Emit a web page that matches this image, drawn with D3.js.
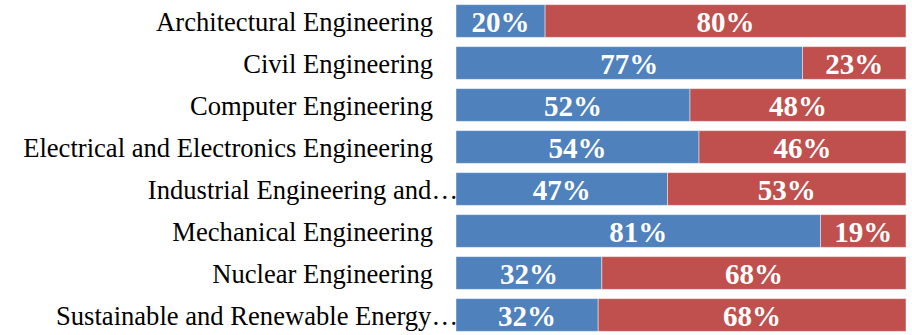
<!DOCTYPE html>
<html><head><meta charset="utf-8">
<script src="https://cdn.jsdelivr.net/npm/d3@7"></script>
<style>html,body{margin:0;padding:0;background:#fff;}svg{display:block;}</style>
</head><body>
<svg id="chart" width="912" height="335"></svg>
<script>
const categories = [
  "Architectural Engineering",
  "Civil Engineering",
  "Computer Engineering",
  "Electrical and Electronics Engineering",
  "Industrial Engineering and…",
  "Mechanical Engineering",
  "Nuclear Engineering",
  "Sustainable and Renewable Energy…"
];
const seriesBlue = [19.8, 77, 52, 54, 47, 81, 32.4, 31.6];
const seriesRed  = [80.2, 23, 48, 46, 53, 19, 67.6, 68.4];
const colors = ["#4F81BD", "#C0504D"];

const svg = d3.select("#chart");
const x = d3.scaleLinear().domain([0, 100]).range([456, 906]);
const y = d3.scaleBand().domain(categories).range([0, 336]).paddingInner(0.22).paddingOuter(0.11);

const rows = categories.map((c, i) => ({cat: c, vals: [seriesBlue[i], seriesRed[i]]}));
const segs = [];
rows.forEach(r => {
  let acc = 0;
  r.vals.forEach((v, k) => { segs.push({cat: r.cat, x0: acc, x1: acc + v, v, k}); acc += v; });
});

svg.append("g").selectAll("rect").data(segs).join("rect")
  .attr("x", d => x(d.x0))
  .attr("y", d => y(d.cat))
  .attr("width", d => x(d.x1) - x(d.x0))
  .attr("height", y.bandwidth())
  .attr("fill", d => colors[d.k])
  .attr("stroke", "#ffffff")
  .attr("stroke-opacity", 0.45)
  .attr("stroke-width", 1);

svg.append("g").selectAll("text").data(segs).join("text")
  .attr("x", d => (x(d.x0) + x(d.x1)) / 2)
  .attr("y", d => y(d.cat) + y.bandwidth() / 2 + 1)
  .attr("text-anchor", "middle")
  .attr("dominant-baseline", "central")
  .attr("fill", "#fff")
  .style("font-family", "'Liberation Serif', 'Times New Roman', serif")
  .style("font-weight", "bold")
  .style("font-size", "29px")
  .text(d => Math.round(d.v) + "%");

svg.append("g").selectAll("text").data(categories).join("text")
  .attr("x", d => d.endsWith("…") ? 458 : 433)
  .attr("y", d => y(d) + y.bandwidth() / 2 + 1)
  .attr("text-anchor", "end")
  .attr("dominant-baseline", "central")
  .attr("fill", "#000")
  .style("font-family", "'Liberation Serif', 'Times New Roman', serif")
  .style("font-size", "26.6px")
  .text(d => d);
</script>
</body></html>
